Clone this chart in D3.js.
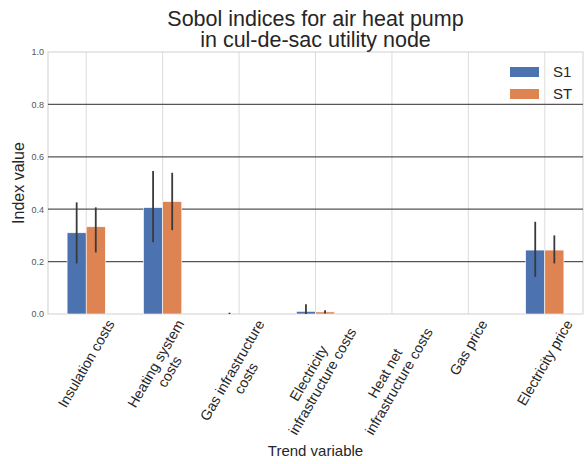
<!DOCTYPE html>
<html>
<head>
<meta charset="utf-8">
<script src="https://cdn.jsdelivr.net/npm/d3@7"></script>
<style>
  body { margin: 0; background: #fff; }
  text { font-family: "Liberation Sans", Arial, sans-serif; }
</style>
</head>
<body>
<svg width="585" height="464"></svg>
<script>
const categories = [
  ["Insulation costs"],
  ["Heating system", "costs"],
  ["Gas infrastructure", "costs"],
  ["Electricity", "infrastructure costs"],
  ["Heat net", "infrastructure costs"],
  ["Gas price"],
  ["Electricity price"]
];
const seriesNames = ["S1", "ST"];
const s1 = [0.31, 0.406, 0.0, 0.01, 0.0, 0.0, 0.244];
const s1Lo = [0.193, 0.274, 0.0, 0.0, 0.0, 0.0, 0.142];
const s1Hi = [0.426, 0.546, 0.005, 0.037, 0.0, 0.0, 0.352];
const st = [0.333, 0.429, 0.0, 0.008, 0.0, 0.0, 0.244];
const stLo = [0.235, 0.32, 0.0, 0.002, 0.0, 0.0, 0.193];
const stHi = [0.407, 0.539, 0.0, 0.014, 0.0, 0.0, 0.30];
const yTicks = [0, 0.2, 0.4, 0.6, 0.8, 1.0];
const colors = ["#4c72b0", "#dd8452"];

const svg = d3.select('svg');
const margin = { top: 52, right: 2, bottom: 150, left: 48 };
const width = +svg.attr('width');
const height = +svg.attr('height');
const innerWidth = width - margin.left - margin.right;
const innerHeight = height - margin.top - margin.bottom;

const xscale = d3.scaleBand()
    .domain(d3.range(categories.length))
    .range([0, innerWidth]);
const yscale = d3.scaleLinear()
    .domain([0, 1])
    .range([innerHeight, 0]);

const g = svg.append('g')
    .attr('transform', `translate(${margin.left},${margin.top})`);

// vertical grid (light)
g.append('g').selectAll('line').data(d3.range(categories.length))
  .enter().append('line')
    .attr('x1', i => xscale(i) + xscale.bandwidth() / 2)
    .attr('x2', i => xscale(i) + xscale.bandwidth() / 2)
    .attr('y1', 0).attr('y2', innerHeight)
    .attr('stroke', '#dcdcdc').attr('stroke-width', 1);

// frame
g.append('rect')
    .attr('width', innerWidth).attr('height', innerHeight)
    .attr('fill', 'none').attr('stroke', '#d0d0d0').attr('stroke-width', 1);

// horizontal grid (dark)
g.append('g').selectAll('line').data(yTicks.filter(v => v > 0 && v < 1))
  .enter().append('line')
    .attr('x1', 0).attr('x2', innerWidth)
    .attr('y1', d => yscale(d)).attr('y2', d => yscale(d))
    .attr('stroke', '#555').attr('stroke-width', 1.3);

// y axis
const yAxis = d3.axisLeft(yscale)
    .tickValues(yTicks)
    .tickFormat(d3.format('.1f'))
    .tickSize(0)
    .tickPadding(4);
const yAxisG = g.append('g').call(yAxis);
yAxisG.select('.domain').remove();
yAxisG.selectAll('text')
    .attr('font-size', 9)
    .attr('fill', '#555')
    .style('font-family', '"Liberation Sans", Arial, sans-serif');

g.append('text')
    .text('Index value')
    .attr('transform', 'rotate(-90)')
    .attr('x', -innerHeight / 2)
    .attr('y', -24)
    .attr('text-anchor', 'middle')
    .attr('font-size', 16)
    .attr('fill', '#262626');

// bars
const barW = xscale.bandwidth() / 4;
const series = [
  { vals: s1, lo: s1Lo, hi: s1Hi, off: -1 },
  { vals: st, lo: stLo, hi: stHi, off: 0 }
];
series.forEach((s, k) => {
  const sg = g.append('g');
  sg.selectAll('rect').data(s.vals)
    .enter().append('rect')
      .attr('x', (d, i) => xscale(i) + xscale.bandwidth() / 2 + s.off * barW)
      .attr('y', d => yscale(d))
      .attr('width', barW)
      .attr('height', d => innerHeight - yscale(d))
      .attr('fill', colors[k])
      .attr('stroke', '#fff').attr('stroke-width', 0.6);
  sg.selectAll('line').data(s.vals)
    .enter().append('line')
      .attr('x1', (d, i) => xscale(i) + xscale.bandwidth() / 2 + s.off * barW + barW / 2)
      .attr('x2', (d, i) => xscale(i) + xscale.bandwidth() / 2 + s.off * barW + barW / 2)
      .attr('y1', (d, i) => yscale(s.lo[i]))
      .attr('y2', (d, i) => yscale(s.hi[i]))
      .attr('stroke', '#3a3a3a').attr('stroke-width', 1.8);
});

// x tick labels, rotated 60 deg, centred on tick like matplotlib
const lineH = 16;
categories.forEach((lines, i) => {
  const cx = xscale(i) + xscale.bandwidth() / 2;
  const lg = g.append('g');
  const t = lg.append('text')
      .attr('text-anchor', 'middle')
      .attr('font-size', 14.3)
      .attr('fill', '#262626');
  lines.forEach((s, j) => {
    t.append('tspan').attr('x', 0).attr('y', (j - (lines.length - 1) / 2) * lineH + 5).text(s);
  });
  const w = d3.max(t.selectAll('tspan').nodes(), n => n.getComputedTextLength());
  const h = lines.length * lineH;
  const a = Math.PI / 3;
  const H = w * Math.sin(a) + h * Math.cos(a);
  lg.attr('transform', `translate(${cx},${innerHeight + 3 + H / 2}) rotate(-60)`);
});

g.append('text')
    .text('Trend variable')
    .attr('x', innerWidth / 2)
    .attr('y', 404)
    .attr('text-anchor', 'middle')
    .attr('font-size', 15)
    .attr('fill', '#262626');

// title
const title = svg.append('text')
    .attr('text-anchor', 'middle')
    .attr('font-size', 21.5)
    .attr('fill', '#262626');
['Sobol indices for air heat pump', 'in cul-de-sac utility node'].forEach((s, j) => {
  title.append('tspan')
      .attr('x', margin.left + innerWidth / 2)
      .attr('y', 26 + j * 21)
      .text(s);
});

// legend
const legend = g.append('g').attr('transform', `translate(${innerWidth - 73},15)`);
seriesNames.forEach((n, k) => {
  legend.append('rect')
      .attr('x', 0).attr('y', k * 22)
      .attr('width', 29).attr('height', 10)
      .attr('fill', colors[k]);
  legend.append('text')
      .attr('x', 43).attr('y', k * 22 + 10)
      .attr('font-size', 15)
      .attr('fill', '#262626')
      .text(n);
});
</script>
</body>
</html>
